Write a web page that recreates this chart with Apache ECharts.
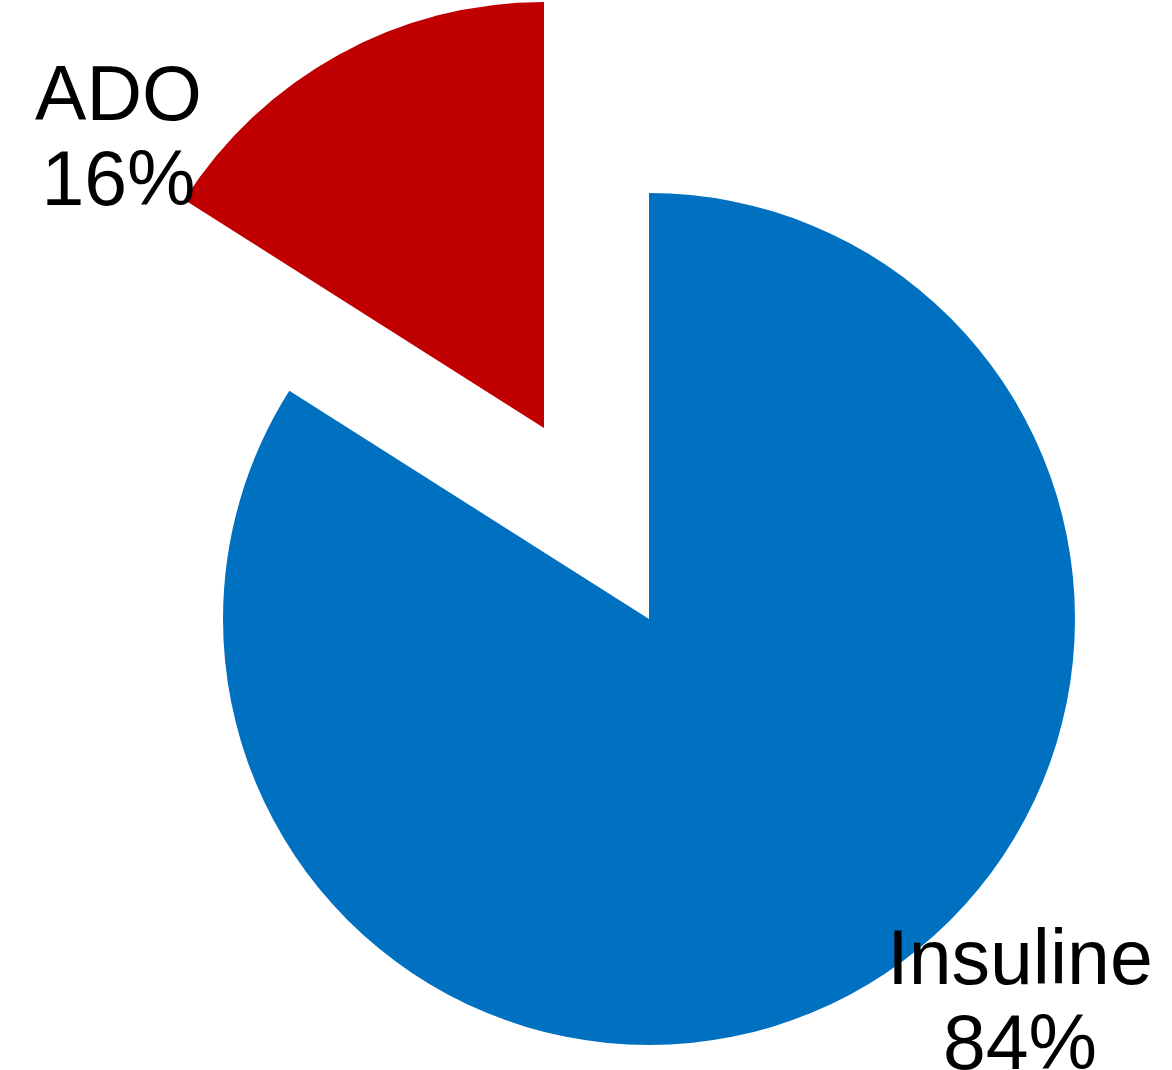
<!DOCTYPE html>
<html>
<head>
<meta charset="utf-8">
<script src="https://cdn.jsdelivr.net/npm/echarts@6/dist/echarts.min.js"></script>
<style>
html,body{margin:0;padding:0;background:#fff;}
#chart{width:1172px;height:1070px;}
</style>
</head>
<body>
<div id="chart"></div>
<script>
const categories = ['Insuline', 'ADO'];
const values = [84, 16];
const colors = ['#0070C0', '#C00000'];
const labelPositions = [[1020, 1005], [117, 137]];

const chart = echarts.init(document.getElementById('chart'), null, {renderer: 'canvas'});
chart.setOption({
  animation: false,
  backgroundColor: '#ffffff',
  series: [{
    type: 'pie',
    center: [649, 619],
    radius: 426,
    startAngle: 90,
    clockwise: true,
    selectedMode: 'single',
    selectedOffset: 218,
    percentPrecision: 0,
    avoidLabelOverlap: false,
    emphasis: {disabled: true},
    label: {
      show: true,
      position: 'outside',
      formatter: '{b}\n{d}%',
      fontFamily: 'Liberation Sans, Arial, sans-serif',
      fontSize: 77,
      lineHeight: 85,
      color: '#000000',
      align: 'center'
    },
    labelLine: {show: false},
    labelLayout: function (params) {
      const p = labelPositions[params.dataIndex];
      return {x: p[0], y: p[1], align: 'center', verticalAlign: params.dataIndex === 1 ? 'top' : 'middle'};
    },
    data: categories.map((c, i) => ({
      name: c,
      value: values[i],
      selected: c === 'ADO',
      itemStyle: {color: colors[i]},
      label: c === 'ADO' ? {verticalAlign: 'top', padding: [15, 356, 0, 0]} : {}
    }))
  }]
});
</script>
</body>
</html>
